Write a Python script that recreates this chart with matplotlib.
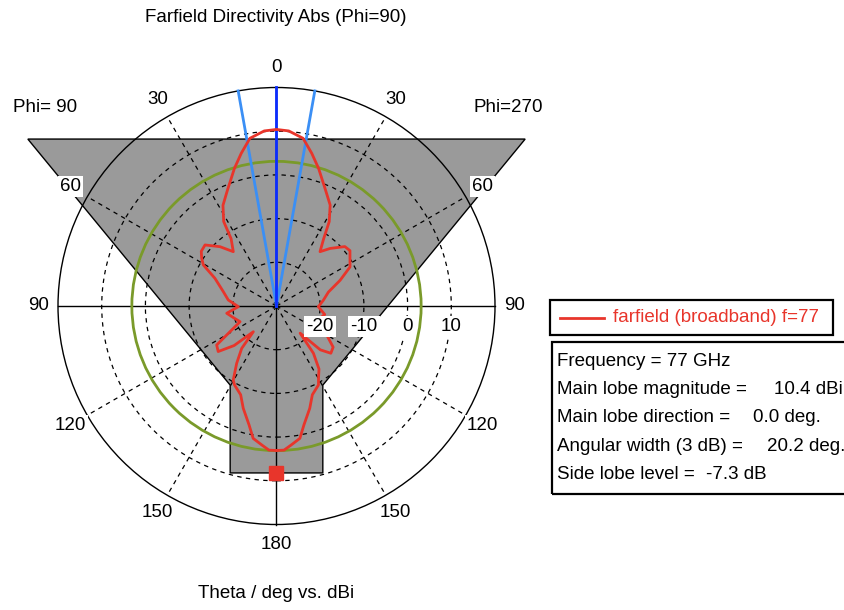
import numpy as np
import matplotlib
matplotlib.use("Agg")
import matplotlib.pyplot as plt
from matplotlib.patches import Polygon, Circle, Rectangle

plt.rcParams['font.family'] = ['Liberation Sans', 'DejaVu Sans']

# ---- chart data ----------------------------------------------------------
# Farfield directivity cut (dBi) versus theta (deg) on both half-planes
theta_phi270 = [0, 4, 9, 13, 17, 23, 28, 32, 35, 38.7, 43, 49, 53, 57, 62, 68,
                75, 83, 91, 100, 108, 113, 120, 126, 131, 135, 139, 142, 146,
                150, 152, 158, 162, 167, 170, 174, 177, 180]
dbi_phi270 = [10.4, 10.16, 8.86, 5.86, 2.93, -1.24, -3.84, -7.23, -11.17,
              -14.07, -11.99, -9.27, -8.95, -9.95, -10.94, -14.30, -17.71,
              -19.20, -20.43, -18.79, -19.93, -20.85, -16.73, -13.98, -13.52,
              -15.81, -21.76, -16.27, -12.61, -10.78, -9.54, -8.10, -5.38,
              -2.08, 0.76, 1.99, 3.02, 3.07]

theta_phi90 = [0, 4, 9, 13, 17, 23, 28, 32, 34, 38.5, 43.6, 49.5, 54, 57.5,
               60.7, 65.8, 74.9, 82.9, 91, 98.3, 106, 113.3, 118.9, 123.1,
               128, 133, 138, 140.6, 145.2, 149.7, 152, 158, 162, 167, 170,
               174, 177, 180]
dbi_phi90 = [10.4, 10.16, 8.86, 5.86, 2.93, -1.24, -3.91, -7.19, -11.42,
             -14.12, -11.26, -8.49, -8.72, -9.70, -10.80, -14.55, -17.39,
             -18.88, -21.26, -18.49, -19.93, -20.92, -17.85, -13.66, -13.07,
             -16.73, -22.08, -17.46, -14.03, -10.39, -9.54, -8.10, -5.38,
             -2.08, 0.76, 1.99, 3.02, 3.07]

radial_ticks = [-20, -10, 0, 10]          # dBi
angle_ticks = [0, 30, 60, 90, 120, 150, 180]
r_min, r_max = -30, 20                    # dBi at centre / outer circle

main_lobe_mag = 10.4
main_lobe_dir = 0.0
beam_width = 20.2
side_lobe_level = -7.3
freq_ghz = 77

# outline of the shaded region (radial units, dB above r_min)
mask_top_level, mask_top_half = 38.2, 56.9
mask_neck_level, mask_neck_half = -18.1, 10.6
mask_base_level = -38.2

# ---- styling -------------------------------------------------------------
RED = '#e8352b'
BLUE = '#0a2cff'
LIGHT_BLUE = '#3b8ff5'
GREEN = '#7a9a2a'
GRAY = '#9a9a9a'
FS = 13.5

W, H = 845, 610
CX, CY = 276.5, 306.0      # polar centre in pixels
PX_PER_DB = 4.37

fig = plt.figure(figsize=(W / 100, H / 100), dpi=100)
ax = fig.add_axes([0, 0, 1, 1])
ax.set_xlim(-CX / PX_PER_DB, (W - CX) / PX_PER_DB)
ax.set_ylim(-(H - CY) / PX_PER_DB, CY / PX_PER_DB)
ax.set_aspect('equal')
ax.axis('off')

R = r_max - r_min


def to_xy(theta_deg, dbi, side):
    th = np.deg2rad(np.asarray(theta_deg, dtype=float))
    r = np.asarray(dbi, dtype=float) - r_min
    return side * r * np.sin(th), r * np.cos(th)


# shaded region
mask = Polygon([(-mask_top_half, mask_top_level), (mask_top_half, mask_top_level),
                (mask_neck_half, mask_neck_level), (mask_neck_half, mask_base_level),
                (-mask_neck_half, mask_base_level), (-mask_neck_half, mask_neck_level)],
               closed=True, facecolor=GRAY, edgecolor='black', lw=1.0, zorder=1)
ax.add_patch(mask)

# dashed grid rings and spokes
for t in radial_ticks:
    ax.add_patch(Circle((0, 0), t - r_min, fill=False, ec='black', lw=0.9,
                        ls=(0, (3.5, 3.5)), zorder=2))
for a in [30, 60, 120, 150]:
    for s in (-1, 1):
        x, y = to_xy([a, a], [r_min, r_max], s)
        ax.plot(x, y, color='black', lw=0.9, ls=(0, (3.5, 3.5)), zorder=2)

# solid axes and outer circle
ax.plot([-R, R], [0, 0], color='black', lw=1.0, zorder=3)
ax.plot([0, 0], [-R, R], color='black', lw=1.0, zorder=3)
ax.add_patch(Circle((0, 0), R, fill=False, ec='black', lw=1.0, zorder=3))

# side lobe level circle
sll_abs = main_lobe_mag + side_lobe_level
ax.add_patch(Circle((0, 0), sll_abs - r_min, fill=False, ec=GREEN, lw=2.0, zorder=4))

# main lobe direction and 3 dB beam width
for off, col in [(-beam_width / 2, LIGHT_BLUE), (beam_width / 2, LIGHT_BLUE),
                 (0.0, BLUE)]:
    x, y = to_xy([main_lobe_dir + off] * 2, [r_min, r_max], 1)
    ax.plot(x, y, color=col, lw=2.0, zorder=5)

# directivity curve
xl, yl = to_xy(theta_phi90, dbi_phi90, -1)
xr, yr = to_xy(theta_phi270, dbi_phi270, 1)
ax.plot(np.concatenate([xl[::-1], xr]), np.concatenate([yl[::-1], yr]),
        color=RED, lw=2.0, zorder=6, solid_joinstyle='round')

# marker at the bottom of the shaded neck
ax.plot([0], [mask_base_level], marker='s', ms=9.5, color=RED, mec=RED, zorder=7)

# angle labels
lab_r = 54.5
box = dict(facecolor='white', edgecolor='none', pad=1.5)
for a in angle_ticks:
    sides = (1,) if a in (0, 180) else (-1, 1)
    for s in sides:
        th = np.deg2rad(a)
        ax.text(s * lab_r * np.sin(th), lab_r * np.cos(th), str(a),
                ha='center', va='center', fontsize=FS, bbox=box, zorder=8)

# radial labels
for t in radial_ticks:
    ax.text(t - r_min, -4.6, str(t), ha='center', va='center', fontsize=FS,
            bbox=box, zorder=8)

ax.text(-53, 45.5, 'Phi= 90', ha='center', va='center', fontsize=FS)
ax.text(53, 45.5, 'Phi=270', ha='center', va='center', fontsize=FS)


def fx(px):
    return px / W


def fy(py):
    return 1 - py / H


fig.text(fx(276), fy(18), 'Farfield Directivity Abs (Phi=90)', ha='center',
         va='center', fontsize=FS)
fig.text(fx(276), fy(593), 'Theta / deg vs. dBi', ha='center', va='center',
         fontsize=FS)

# legend box
fig.patches.append(Rectangle((fx(550), fy(335)), fx(833) - fx(550),
                             fy(300) - fy(335), transform=fig.transFigure,
                             fill=False, ec='black', lw=1.6))
fig.lines.append(plt.Line2D([fx(560), fx(604)], [fy(318), fy(318)],
                            transform=fig.transFigure, color=RED, lw=2.0))
fig.text(fx(613), fy(318), f'farfield (broadband) f={freq_ghz}', color=RED,
         ha='left', va='center', fontsize=FS)

# info box
fig.patches.append(Rectangle((fx(552), fy(494)), fx(900) - fx(552),
                             fy(342) - fy(494), transform=fig.transFigure,
                             fill=False, ec='black', lw=1.6))
info = [('Frequency = ' + f'{freq_ghz} GHz', None),
        ('Main lobe magnitude =', f'{main_lobe_mag:.1f} dBi'),
        ('Main lobe direction =', f'{main_lobe_dir:.1f} deg.'),
        ('Angular width (3 dB) =', f'{beam_width:.1f} deg.'),
        ('Side lobe level =', f'{side_lobe_level:.1f} dB')]
value_x = [None, 774, 753, 767, 706]
for i, (label, value) in enumerate(info):
    y = fy(361.5 + i * 28.2)
    fig.text(fx(557), y, label, ha='left', va='center', fontsize=FS)
    if value is not None:
        fig.text(fx(value_x[i]), y, value, ha='left', va='center', fontsize=FS)

fig.savefig('out.png', dpi=100)
